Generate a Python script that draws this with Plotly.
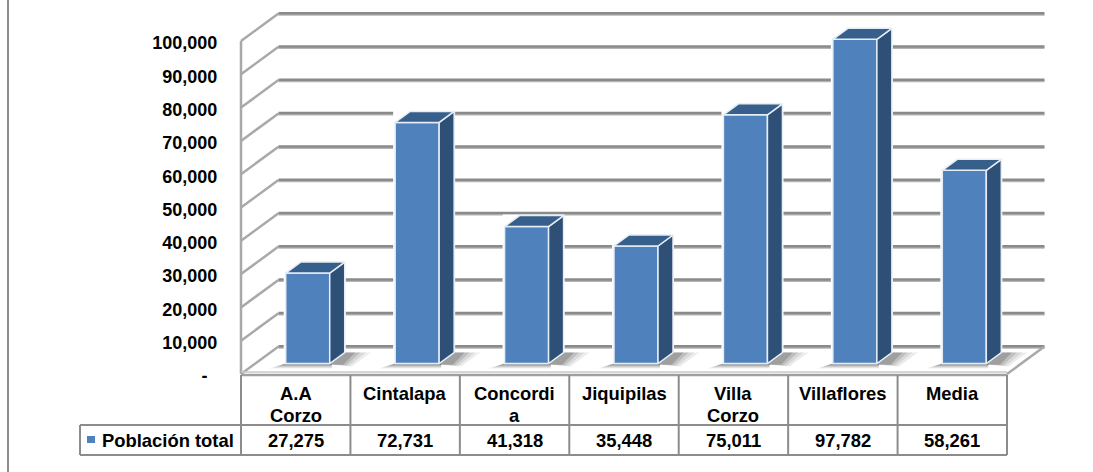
import plotly.graph_objects as go

categories = ["A.A<br>Corzo", "Cintalapa", "Concordi<br>a", "Jiquipilas", "Villa<br>Corzo", "Villaflores", "Media"]
poblacion_total = [27275, 72731, 41318, 35448, 75011, 97782, 58261]
value_labels = ["27,275", "72,731", "41,318", "35,448", "75,011", "97,782", "58,261"]
series_name = "Población total"
tick_values = [0, 10000, 20000, 30000, 40000, 50000, 60000, 70000, 80000, 90000, 100000]
tick_labels = ["-\u00a0\u00a0", "10,000", "20,000", "30,000", "40,000", "50,000", "60,000", "70,000", "80,000", "90,000", "100,000"]

W, H = 1093, 472
FONT = dict(family="Liberation Sans, Arial, sans-serif", size=18.4, color="#000000", weight=700)
TICK_FONT = dict(FONT, size=18)
C_FRONT, C_SIDE, C_TOP = "#4f81bd", "#2e5077", "#375f8b"
C_GRID, C_GRID_SOFT, C_WALL, C_TABLE = "#8a8a8a", "#b4b4b4", "#a9a9a9", "#8c8c8c"
C_EDGE = "#e6edf5"

# Scale of the chart
COL = 109.43          # pixels per category
LEFT = 241            # left edge of the front plane
BASE = 374            # pixel row of zero on the front plane
PXV = 33.3 / 10000    # pixels per unit on the walls
BPXV = 33.15 / 10000  # pixels per unit on the bar plane
BAR_W = 44 / COL


def ux(p):
    return p / COL


def uy(p):
    return p / PXV


def fy(p):
    return 1 - p / H


x_range = [(0 - LEFT) / COL - 0.5, (W - LEFT) / COL - 0.5]
y_range = [(BASE - H) / PXV, BASE / PXV]
BAR_DX, BAR_BASE = 12, 363.5
LABEL_DY = 2
x2_range = [x_range[0] - ux(BAR_DX), x_range[1] - ux(BAR_DX)]
y2_range = [(BAR_BASE - H) / BPXV, BAR_BASE / BPXV]
y3_range = [(BASE + LABEL_DY - H) / PXV, (BASE + LABEL_DY) / PXV]

xs = list(range(len(categories)))
fig = go.Figure()


def line(x, y, color, width, **kw):
    fig.add_trace(go.Scatter(x=x, y=y, mode="lines", line=dict(color=color, width=width),
                             hoverinfo="skip", showlegend=False, **kw))


def poly(x, y, color, lw=0, lc="rgba(0,0,0,0)", **kw):
    fig.add_trace(go.Scatter(x=x + x[:1], y=y + y[:1], mode="lines", fill="toself", fillcolor=color,
                             line=dict(color=lc, width=lw), hoverinfo="skip", showlegend=False, **kw))


# walls and floor in the front-plane axes
WD_X, WD_Y = 37.5, 27.5
x_l, x_r = -0.5, len(categories) - 0.5
for t in tick_values:
    line([x_l, x_l + ux(WD_X)], [t, t + uy(WD_Y)], C_WALL, 2.5)
for t in tick_values:
    line([x_l + ux(WD_X), x_r + ux(WD_X)], [t + uy(WD_Y - 1.2)] * 2, C_GRID_SOFT, 2)
    line([x_l + ux(WD_X), x_r + ux(WD_X)], [t + uy(WD_Y + 0.3)] * 2, C_GRID, 2.5)
line([x_r, x_r + ux(WD_X)], [0, uy(WD_Y)], C_WALL, 2.5)
line([x_l, x_l], [0, 100000], C_WALL, 2.5)
line([x_l, x_r], [uy(2), uy(2)], "#c8c8c8", 1.5)

# carrier for the tick-label axis
fig.add_trace(go.Scatter(x=[x_l, x_l], y=[0, 100000], yaxis="y3", mode="lines", opacity=0,
                         hoverinfo="skip", showlegend=False))

# floor shadows and white halo under each bar
SHADOW_STEPS = [(1.0, "rgba(110,110,110,0.13)"), (0.8, "rgba(110,110,110,0.16)"),
                (0.6, "rgba(100,100,100,0.22)"), (0.4, "rgba(90,90,90,0.30)")]
for i, v in zip(xs, poblacion_total):
    cx = i + ux(BAR_DX)
    b = uy(BASE - BAR_BASE)
    hw = BAR_W / 2
    top = b + v * BPXV / PXV
    poly([cx - hw - ux(2), cx + hw + ux(16), cx + hw + ux(16), cx - hw - ux(2)],
         [b + uy(11), b + uy(11), top + uy(12), top + uy(12)], "#ffffff")
    for grow, col in SHADOW_STEPS:
        poly([cx + hw, cx + hw + ux(15), cx + hw + ux(15 + 26 * grow), cx + hw + ux(8 + 14 * grow)],
             [b - uy(1), b + uy(11), b + uy(11), b - uy(3 * grow)], col)
        poly([cx - hw - ux(16 * grow), cx + hw + ux(2), cx + hw + ux(2), cx - hw],
             [b - uy(5 * grow), b - uy(5 * grow), b, b], col)

# bars on the shifted bar plane
fig.add_trace(go.Bar(x=xs, y=poblacion_total, width=BAR_W, name=series_name,
                     marker=dict(color=C_FRONT, line=dict(color=C_EDGE, width=1.5)),
                     xaxis="x2", yaxis="y2", showlegend=False))
DX_B, DY_B = ux(15), 11 / BPXV
for i, v in zip(xs, poblacion_total):
    hw = BAR_W / 2
    poly([i + hw, i + hw + DX_B, i + hw + DX_B, i + hw], [0, DY_B, v + DY_B, v], C_SIDE, 1.5, C_EDGE, xaxis="x2", yaxis="y2")
    poly([i - hw, i + hw, i + hw + DX_B, i - hw + DX_B], [v, v, v + DY_B, v + DY_B], C_TOP, 1.5, C_EDGE, xaxis="x2", yaxis="y2")

# table
shapes = []


def seg(x0, y0, x1, y1, color=C_TABLE, width=2):
    shapes.append(dict(type="line", xref="paper", yref="paper", x0=x0 / W, x1=x1 / W, y0=fy(y0), y1=fy(y1),
                       line=dict(color=color, width=width)))


col_px = [LEFT + COL * k for k in range(len(categories) + 1)]
R0, R1, R2 = 375, 425, 455
seg(col_px[0], R0, col_px[-1], R0, "#a0a0a0", 2.5)
seg(80, R1, col_px[-1], R1)
seg(80, R2, col_px[-1], R2)
seg(80, R1, 80, R2)
for p in col_px:
    seg(p, R0, p, R2)
seg(8, 0, 8, H, "#8c8c8c", 2)
shapes.append(dict(type="rect", xref="paper", yref="paper", x0=87 / W, x1=95 / W, y0=fy(443), y1=fy(436),
                   line=dict(width=0), fillcolor=C_FRONT))

ann = []


def text(x, y, s, xanchor="center", xref="x"):
    ann.append(dict(x=x, y=fy(y), xref=xref, yref="paper", text=s, showarrow=False, font=FONT,
                    xanchor=xanchor, yanchor="middle"))


for i, c in enumerate(categories):
    parts = c.split("<br>")
    for k, part in enumerate(parts):
        text(i, 393.5 + 21.5 * k, part)
    text(i, 440, value_labels[i])
text(100 / W, 440, series_name, "left", "paper")

fig.update_layout(
    width=W, height=H, margin=dict(l=0, r=0, t=0, b=0), autosize=False,
    paper_bgcolor="#ffffff", plot_bgcolor="#ffffff", showlegend=False,
    shapes=shapes, annotations=ann, barmode="overlay",
    xaxis=dict(range=x_range, visible=False, domain=[0, 1]),
    xaxis2=dict(range=x2_range, visible=False, overlaying="x", anchor="y2"),
    yaxis=dict(range=y_range, domain=[0, 1], visible=False),
    yaxis2=dict(range=y2_range, visible=False, overlaying="y", anchor="x2"),
    yaxis3=dict(range=y3_range, overlaying="y", anchor="free", position=LEFT / W, side="left",
                tickmode="array", tickvals=tick_values, ticktext=tick_labels, tickfont=TICK_FONT,
                ticks="outside", ticklen=20, tickcolor="rgba(0,0,0,0)", showgrid=False, zeroline=False, showline=False),
)
fig.write_html("out.html", config=dict(displayModeBar=False), post_script="document.body.style.margin='0';")
